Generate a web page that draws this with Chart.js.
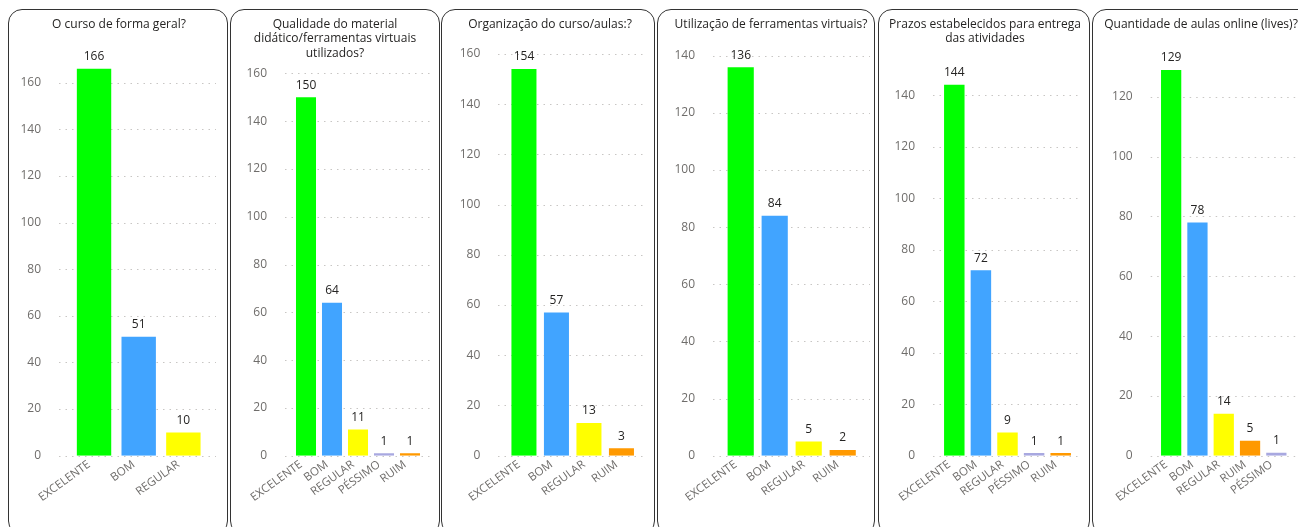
<!DOCTYPE html>
<html>
<head>
<meta charset="utf-8">
<script src="https://cdn.jsdelivr.net/npm/chart.js@4.4.1/dist/chart.umd.min.js"></script>
<style>
	body { margin: 0; width: 1298px; height: 527px; overflow: hidden; background: #fff; position: relative; }
	.panel { position: absolute; top: 9px; height: 526px; border: 1.5px solid #333; border-radius: 14px; box-sizing: border-box; }
	canvas { position: absolute; top: 10px; }
</style>
</head>
<body>
<script>
// questions (titles split the way they wrap in the report)
const titles = [
	['O curso de forma geral?'],
	['Qualidade do material', 'didático/ferramentas virtuais', 'utilizados?'],
	['Organização do curso/aulas:?'],
	['Utilização de ferramentas virtuais?'],
	['Prazos estabelecidos para entrega', 'das atividades'],
	['Quantidade de aulas online (lives)?']
];

// answers per question
const labels1 = ['EXCELENTE', 'BOM', 'REGULAR'];
const values1 = [166, 51, 10];
const labels2 = ['EXCELENTE', 'BOM', 'REGULAR', 'PÉSSIMO', 'RUIM'];
const values2 = [150, 64, 11, 1, 1];
const labels3 = ['EXCELENTE', 'BOM', 'REGULAR', 'RUIM'];
const values3 = [154, 57, 13, 3];
const labels4 = ['EXCELENTE', 'BOM', 'REGULAR', 'RUIM'];
const values4 = [136, 84, 5, 2];
const labels5 = ['EXCELENTE', 'BOM', 'REGULAR', 'PÉSSIMO', 'RUIM'];
const values5 = [144, 72, 9, 1, 1];
const labels6 = ['EXCELENTE', 'BOM', 'REGULAR', 'RUIM', 'PÉSSIMO'];
const values6 = [129, 78, 14, 5, 1];

// y axis upper bounds and tick step
const yMax = [170, 160, 160, 140, 145, 130];
const yStep = 20;

const allLabels = [labels1, labels2, labels3, labels4, labels5, labels6];
const allValues = [values1, values2, values3, values4, values5, values6];

const catColors = {
	'EXCELENTE': '#00FF00',
	'BOM': '#41A4FF',
	'REGULAR': '#FFFF00',
	'PÉSSIMO': '#A8A8E0',
	'RUIM': '#FF9900'
};

// page layout of each card (px)
const panels = [
	{l: 8,    r: 228,   areaL: 71.7,  areaR: 205.7,  labelR: 49,     gridL: 59,     gridR: 216,  top: 59.4, titleC: 119},
	{l: 230,  r: 439.5, areaL: 293,   areaR: 423,    labelR: 275,    gridL: 285,    gridR: 430,  top: 73.3, titleC: 335},
	{l: 441,  r: 655,   areaL: 507.7, areaR: 637.7,  labelR: 488.3,  gridL: 498,    gridR: 647,  top: 54,   titleC: 550},
	{l: 657,  r: 875,   areaL: 723.7, areaR: 859.7,  labelR: 703,    gridL: 713,    gridR: 870,  top: 55.7, titleC: 771},
	{l: 878,  r: 1090,  areaL: 941,   areaR: 1074,   labelR: 923,    gridL: 933,    gridR: 1082, top: 82.2, titleC: 985},
	{l: 1092, r: 1312,  areaL: 1158,  areaR: 1289.5, labelR: 1140.7, gridL: 1150.7, gridR: 1300, top: 67,   titleC: 1201}
];

const CANVAS_TOP = 10;
const CANVAS_H = 517;
const AREA_BOTTOM = 455.7;
const FONT = "'Open Sans', sans-serif";

Chart.defaults.font.family = FONT;

// dotted value gridlines, a bit wider than the bar area like the report
const dottedGrid = {
	id: 'dottedGrid',
	beforeDatasetsDraw(chart, args, opts) {
		const {ctx} = chart;
		const y = chart.scales.y;
		ctx.save();
		ctx.strokeStyle = '#c8c6c4';
		ctx.lineWidth = 1;
		ctx.setLineDash([1.5, 5]);
		y.ticks.forEach(t => {
			const py = Math.round(y.getPixelForValue(t.value)) + 0.5;
			ctx.beginPath();
			ctx.moveTo(opts.from, py);
			ctx.lineTo(opts.to, py);
			ctx.stroke();
		});
		ctx.restore();
	}
};

// value labels above bars
const barValues = {
	id: 'barValues',
	afterDatasetsDraw(chart) {
		const {ctx} = chart;
		const meta = chart.getDatasetMeta(0);
		const data = chart.data.datasets[0].data;
		ctx.save();
		ctx.fillStyle = '#252423';
		ctx.font = '12px ' + FONT;
		ctx.textAlign = 'center';
		ctx.textBaseline = 'middle';
		meta.data.forEach((bar, i) => {
			ctx.fillText(String(data[i]), bar.x, bar.y - 12);
		});
		ctx.restore();
	}
};

panels.forEach((p, i) => {
	const div = document.createElement('div');
	div.className = 'panel';
	div.style.left = p.l + 'px';
	div.style.width = (p.r - p.l) + 'px';
	document.body.appendChild(div);

	const cL = p.l + 2;
	const cW = Math.round(p.r - p.l - 4);
	const canvas = document.createElement('canvas');
	canvas.width = cW;
	canvas.height = CANVAS_H;
	canvas.style.left = cL + 'px';
	canvas.style.width = cW + 'px';
	canvas.style.height = CANVAS_H + 'px';
	document.body.appendChild(canvas);

	const lines = titles[i].length;
	const titlePadTop = 24.5 - 7.2 - CANVAS_TOP;
	const titlePadBottom = p.top - CANVAS_TOP - titlePadTop - lines * 14.4;
	const xAxisH = 60;
	const padBottom = CANVAS_H - (AREA_BOTTOM - CANVAS_TOP) - xAxisH;
	// layout padding only shifts the title centre; the side axes fix the bar area
	const shift = 2 * p.titleC - 2 * cL - cW;
	const padL = Math.max(0, shift);
	const padR = Math.max(0, -shift);
	const yWidth = p.areaL - cL - padL;
	const rightGap = cL + cW - padR - p.areaR;
	const labels = allLabels[i];

	new Chart(canvas, {
		type: 'bar',
		data: {
			labels: labels,
			datasets: [{
				data: allValues[i],
				backgroundColor: labels.map(l => catColors[l]),
				barPercentage: 0.77,
				categoryPercentage: 1
			}]
		},
		options: {
			responsive: false,
			animation: false,
			devicePixelRatio: 1,
			layout: {padding: {left: padL, right: padR, top: 0, bottom: padBottom}},
			plugins: {
				legend: {display: false},
				tooltip: {enabled: false},
				title: {
					display: true,
					text: titles[i],
					color: '#252423',
					font: {family: FONT, size: 12, weight: 'normal', lineHeight: 1.2},
					padding: {top: titlePadTop, bottom: titlePadBottom}
				},
				dottedGrid: {from: p.gridL - cL, to: p.gridR - cL}
			},
			scales: {
				x: {
					grid: {display: false},
					border: {display: false},
					ticks: {
						color: '#6f6d6b',
						font: {size: 11.5},
						minRotation: 36,
						maxRotation: 36,
						autoSkip: false,
						padding: -6,
						labelOffset: -5
					},
					afterFit(s) { s.height = xAxisH; }
				},
				y: {
					min: 0,
					max: yMax[i],
					grid: {display: false},
					border: {display: false},
					ticks: {
						stepSize: yStep,
						color: '#6f6d6b',
						font: {size: 12},
						padding: p.areaL - p.labelR
					},
					afterBuildTicks(s) {
						const ticks = [];
						for (let v = 0; v <= s.max; v += yStep) ticks.push({value: v});
						s.ticks = ticks;
					},
					afterFit(s) { s.width = yWidth; }
				},
				// empty right-hand spacer
				gap: {
					type: 'linear',
					position: 'right',
					grid: {display: false},
					border: {display: false},
					ticks: {display: false},
					afterFit(s) { s.width = rightGap; }
				}
			}
		},
		plugins: [dottedGrid, barValues]
	});
});
</script>
</body>
</html>
